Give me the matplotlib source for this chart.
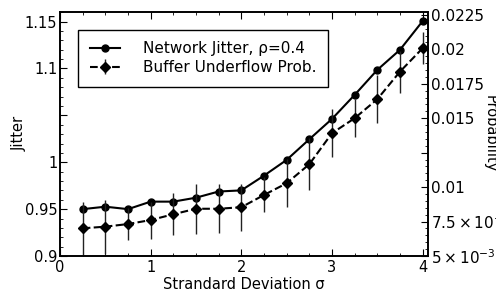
import numpy as np
import matplotlib
matplotlib.use("Agg")
import matplotlib.pyplot as plt
from matplotlib.ticker import FixedLocator, FixedFormatter, MultipleLocator

# data
sigma = [0.25, 0.5, 0.75, 1.0, 1.25, 1.5, 1.75, 2.0,
         2.25, 2.5, 2.75, 3.0, 3.25, 3.5, 3.75, 4.0]
jitter = [0.950, 0.9526, 0.950, 0.958, 0.958, 0.9622, 0.9688, 0.970,
          0.9857, 1.0025, 1.0245, 1.0462, 1.0718, 1.0985, 1.1199, 1.1505]
underflow = [0.00701, 0.00713, 0.00732, 0.00761, 0.00803, 0.00843, 0.00843, 0.00854,
             0.00943, 0.01028, 0.01166, 0.01391, 0.01500, 0.01638, 0.01838, 0.02008]
underflow_err = [0.00194, 0.00196, 0.00113, 0.00134, 0.00152, 0.00182, 0.00179, 0.00172,
                 0.00127, 0.00174, 0.00189, 0.00174, 0.00138, 0.00174, 0.00152, 0.00116]

jitter_ticks = [0.9, 0.95, 1.0, 1.05, 1.1, 1.15]
jitter_labels = ['0.9', '0.95', '1', '', '1.1', '1.15']
prob_ticks = [0.005, 0.0075, 0.01, 0.0125, 0.015, 0.0175, 0.02, 0.0225]
prob_labels = [r'$5\times10^{-3}$', r'$7.5\times10^{-3}$', '0.01', '',
               '0.015', '0.0175', '0.02', '0.0225']

plt.rcParams['font.size'] = 10
plt.rcParams['mathtext.default'] = 'regular'

fig = plt.figure(figsize=(4.96, 2.97), dpi=100)
ax = fig.add_axes([0.121, 0.138, 0.742, 0.823])
ax2 = ax.twinx()

l1, = ax.plot(sigma, jitter, '-o', color='black', lw=1.5, ms=5,
              label='Network Jitter, ρ=0.4')
eb = ax2.errorbar(sigma, underflow, yerr=underflow_err, fmt='--D', color='black',
                  lw=1.5, ms=5, elinewidth=1, ecolor='#222222', capsize=0,
                  label='Buffer Underflow Prob.')

ax.set_xlim(0, 4.06)
ax.set_ylim(0.9, 1.1607)
ax2.set_ylim(0.005, 0.02274)

ax.xaxis.set_major_locator(MultipleLocator(1))
ax.xaxis.set_minor_locator(MultipleLocator(0.25))
ax.yaxis.set_major_locator(FixedLocator(jitter_ticks))
ax.yaxis.set_major_formatter(FixedFormatter(jitter_labels))
ax.yaxis.set_minor_locator(MultipleLocator(0.01))
ax2.yaxis.set_major_locator(FixedLocator(prob_ticks))
ax2.yaxis.set_major_formatter(FixedFormatter(prob_labels))
ax2.yaxis.set_minor_locator(MultipleLocator(0.0005))

ax.tick_params(which='both', direction='in', top=True, right=False)
ax.tick_params(which='major', length=5, pad=2, labelsize=10.5)
ax.tick_params(which='minor', length=2.5)
ax2.tick_params(which='both', direction='in')
ax2.tick_params(which='major', length=5, pad=2, labelsize=11)
ax2.tick_params(which='minor', length=2.5)
ax.tick_params(axis='x', pad=3)

for a in (ax, ax2):
    for s in a.spines.values():
        s.set_linewidth(1.2)

ax.set_xlabel('Strandard Deviation σ', labelpad=1, fontsize=10.5)
ax.set_ylabel('Jitter', fontsize=10.5)
ax.yaxis.set_label_coords(-0.112, 0.5)
ax.yaxis.label.set_va('center')
ax2.set_ylabel('Probability', rotation=270, fontsize=10.5)
ax2.yaxis.set_label_coords(1.168, 0.5)
ax2.yaxis.label.set_va('center')

leg = ax.legend([l1, eb], ['Network Jitter, ρ=0.4', 'Buffer Underflow Prob.'],
                loc='upper left', bbox_to_anchor=(0.049, 0.925), borderaxespad=0,
                fancybox=False, frameon=True, edgecolor='black', framealpha=1,
                fontsize=11, handlelength=2.0, handletextpad=1.5, borderpad=0.75,
                labelspacing=0.25)
leg.get_frame().set_linewidth(1)

fig.savefig('out.png', dpi=100)
